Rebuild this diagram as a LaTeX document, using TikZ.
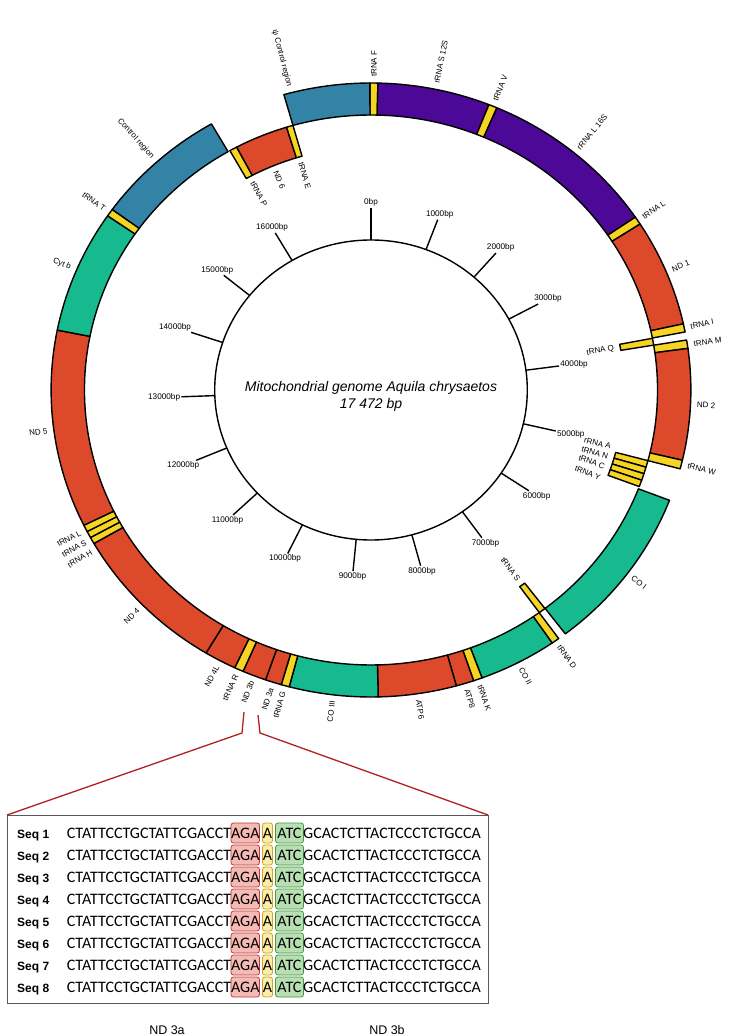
\documentclass[tikz,border=0pt]{standalone}
\usepackage{fontspec}
\setmainfont{Liberation Sans}
\newfontfamily\seqfont{Carlito}
\definecolor{gY}{RGB}{245,212,35}
\definecolor{gR}{RGB}{220,73,43}
\definecolor{gG}{RGB}{22,186,142}
\definecolor{gB}{RGB}{50,131,166}
\definecolor{gP}{RGB}{76,8,150}
\definecolor{hRf}{RGB}{246,186,180}
\definecolor{hRd}{RGB}{185,60,60}
\definecolor{hYf}{RGB}{252,236,165}
\definecolor{hYd}{RGB}{200,165,50}
\definecolor{hGf}{RGB}{183,223,178}
\definecolor{hGd}{RGB}{70,150,70}
\definecolor{zRed}{RGB}{178,32,32}
\begin{document}
\begin{tikzpicture}[x=1pt,y=1pt,
  gene/.style={draw=black,line width=1.4pt,line join=round},
  glab/.style={font=\fontsize{8}{9}\selectfont,inner sep=0pt},
  tlab/.style={font=\fontsize{8.2}{9}\selectfont,inner sep=1.2pt},
  seq/.style={font=\seqfont\fontsize{16}{18}\selectfont,inner sep=0pt},
  seqlab/.style={font=\bfseries\fontsize{12}{14}\selectfont,inner sep=0pt},
  hbox/.style={line width=0.8pt,rounded corners=2.5pt},
  zline/.style={draw=zRed,line width=1.3pt}]
\useasboundingbox (-371,-646) rectangle (365,390);
\fill[white] (-371,-646) rectangle (365,390);
\begin{scope}[x=1.042pt,y=1pt]
  % gene blocks (positions in kb): start/end/colour/inner radius/outer radius
  \foreach \s/\e/\c/\ri/\ro in {
    -0.010/0.060/gY/275/307, 0.060/1.050/gP/275/307, 1.050/1.125/gY/275/307,
    1.125/2.705/gP/275/307, 2.705/2.780/gY/275/307, 2.780/3.764/gR/275/307,
    3.764/3.839/gY/275/307, 3.842/3.912/gY/243/275, 3.913/3.990/gY/275/307,
    3.990/5.010/gR/275/307, 5.010/5.090/gY/275/307,
    5.090/5.159/gY/243/275, 5.159/5.228/gY/243/275, 5.228/5.297/gY/243/275, 5.297/5.366/gY/243/275,
    5.390/6.920/gG/275/307, 6.922/6.990/gY/243/275, 6.992/7.062/gY/275/307,
    7.062/7.750/gG/275/307, 7.750/7.828/gY/275/307, 7.828/7.985/gR/275/307,
    7.985/8.673/gR/275/307, 8.673/9.455/gG/275/307, 9.455/9.527/gY/275/307,
    9.527/9.670/gR/275/307, 9.670/9.880/gR/275/307, 9.880/9.960/gY/275/307,
    9.960/10.243/gR/275/307, 10.243/11.648/gR/275/307,
    11.648/11.710/gY/275/307, 11.710/11.772/gY/275/307, 11.772/11.835/gY/275/307,
    11.835/13.650/gR/275/307, 13.650/14.782/gG/275/307, 14.782/14.852/gY/275/307,
    14.852/16.020/gB/275/307, 16.040/16.115/gY/243/275, 16.115/16.640/gR/243/275,
    16.640/16.705/gY/243/275, 16.705/17.462/gB/275/307}{
    \pgfmathsetmacro\sa{90-\s/17.472*360}
    \pgfmathsetmacro\ea{90-\e/17.472*360}
    \draw[gene,fill=\c] (\sa:\ro) arc[start angle=\sa,end angle=\ea,radius=\ro]
      -- (\ea:\ri) arc[start angle=\ea,end angle=\sa,radius=\ri] -- cycle;
  }
  % outer labels
  \foreach \n/\a/\t in {
    lF/0.5/tRNA F, l12S/11.6/rRNA S 12S, lV/22.4/tRNA V, l16S/39.5/rRNA L 16S,
    lL/56.5/tRNA L, lND1/67.4/ND 1, lI/78.3/tRNA I, lM/81.6/tRNA M,
    lND2/92.7/ND 2, lW/104/tRNA W, lCOI/126.8/CO I, lD/144.8/tRNA D,
    lCOII/152.6/CO II, lK/160.5/tRNA K, lATP8/162.9/ATP8, lATP6/171.6/ATP6,
    lCOIII/186.8/CO III, lG/195.6/tRNA G, lND3a/197.8/ND 3a, lND3b/201.4/ND 3b,
    lR/204.4/tRNA R, lND4L/208.1/ND 4L, lND4/225.5/ND 4, lH/238.9/tRNA H,
    lS2/240.9/tRNA S, lL2/242.9/tRNA L, lND5/262.5/ND 5, lCytb/293/Cyt b,
    lT/305.3/tRNA T, lCR/318/Control region, lPsi/345.5/ψ Control region}{
    \pgfmathsetmacro\la{90-\a}
    \pgfmathtruncatemacro\side{\a<180?1:0}
    \ifnum\side=1
      \node[glab,rotate=\la,anchor=west] (\n) at (\la:313) {\t};
    \else
      \pgfmathsetmacro\lb{\la+180}
      \node[glab,rotate=\lb,anchor=east] (\n) at (\la:313) {\t};
    \fi
  }
  % inner labels
  \foreach \n/\a/\t in {
    lQ/79.9/tRNA Q, lA/103.8/rRNA A, lN/106.3/tRNA N, lC/108.8/tRNA C,
    lY/111.8/tRNA Y, lS/143.3/tRNA S, lP/331.3/tRNA P, lND6/337.3/ND 6,
    lE/343.5/tRNA E}{
    \pgfmathsetmacro\la{90-\a}
    \pgfmathtruncatemacro\side{\a<180?1:0}
    \ifnum\side=1
      \node[glab,rotate=\la,anchor=east] (\n) at (\la:237) {\t};
    \else
      \pgfmathsetmacro\lb{\la+180}
      \node[glab,rotate=\lb,anchor=west] (\n) at (\la:237) {\t};
    \fi
  }
  % inner scale circle and ticks
  \draw[line width=1.4pt] (0,0) circle[radius=150];
  \foreach \k in {0,...,16}{
    \pgfmathsetmacro\ta{90-\k/17.472*360}
    \pgfmathsetmacro\tanc{\ta+180}
    \draw[line width=1.4pt] (\ta:150) -- (\ta:182);
    \ifnum\k=0 \def\tl{0bp}\else\def\tl{\k000bp}\fi
    \node[tlab,anchor=\tanc] (tk\k) at (\ta:182) {\tl};
  }
  \node[font=\fontsize{14}{16}\selectfont\itshape] (title1) at (0,2) {Mitochondrial genome Aquila chrysaetos};
  \node[font=\fontsize{14}{16}\selectfont\itshape] (title2) at (0,-15) {17 472 bp};
\end{scope}
% zoom connectors and alignment box
\coordinate (zl0) at (-127,-322);
\coordinate (zl1) at (-129,-343);
\coordinate (zr0) at (-113,-325);
\coordinate (zr1) at (-111,-343);
\coordinate (bl) at (-364,-425);
\coordinate (br) at (117,-425);
\coordinate (bbr) at (117,-613);
\draw[draw=black!65,line width=0.9pt] (bl) rectangle (bbr);
\draw[zline] (zl0) -- (zl1) -- (bl);
\draw[zline] (zr0) -- (zr1) -- (br);
\foreach \i in {1,...,8}{
  \pgfmathsetmacro\yc{-443-22*(\i-1)}
  \pgfmathsetmacro\yb{\yc-5.4}
  \draw[hbox,draw=hRd,fill=hRf] (-140,\yc-10) rectangle (-111.5,\yc+10);
  \draw[hbox,draw=hYd,fill=hYf] (-108.5,\yc-10) rectangle (-98.5,\yc+10);
  \draw[hbox,draw=hGd,fill=hGf] (-95.5,\yc-10) rectangle (-67.5,\yc+10);
  \node[seqlab,anchor=base west] (s\i) at (-354,\yb+0.4) {Seq \i};
  \node[seq,anchor=base east] (pa\i) at (-139.5,\yb) {CTATTCCTGCTATTCGACCT};
  \node[seq,anchor=base] (pb\i) at (-125.7,\yb) {AGA};
  \node[seq,anchor=base] (pc\i) at (-103.5,\yb) {A};
  \node[seq,anchor=base] (pd\i) at (-81.5,\yb) {ATC};
  \node[seq,anchor=base west] (pe\i) at (-68,\yb) {GCACTCTTACTCCCTCTGCCA};
}
\node[font=\fontsize{12.5}{14}\selectfont] (b3a) at (-204,-640) {ND 3a};
\node[font=\fontsize{12.5}{14}\selectfont] (b3b) at (16,-640) {ND 3b};
\end{tikzpicture}
\end{document}
